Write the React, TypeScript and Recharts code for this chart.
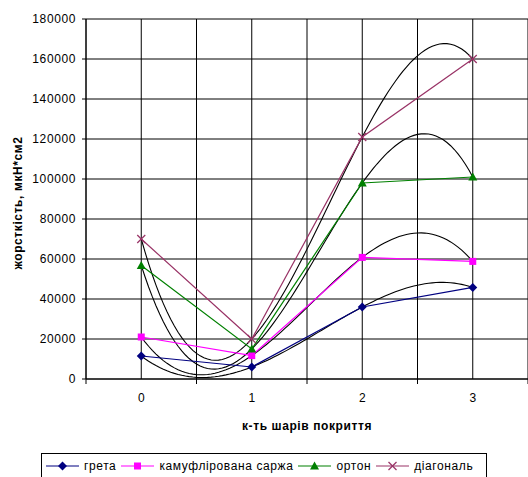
import React from "react";
import { LineChart, Line, XAxis, YAxis, CartesianGrid, Legend, Label } from "recharts";

const layers = [0, 1, 2, 3];
const greta = [11500, 6000, 36000, 45800];
const camo = [21000, 11700, 60800, 58800];
const orton = [56800, 15000, 98000, 101000];
const diag = [70000, 20000, 121000, 160000];
const yTicks = [0, 20000, 40000, 60000, 80000, 100000, 120000, 140000, 160000, 180000];
const xTicks = [-0.5, 0, 0.5, 1, 1.5, 2, 2.5, 3, 3.5];

const FONT = '"Liberation Sans", Arial, sans-serif';

const data = layers.map((x, i) => ({
    x,
    greta: greta[i],
    camo: camo[i],
    orton: orton[i],
    diag: diag[i],
}));

type Series = { key: string, name: string, color: string, marker: string };

const SERIES: Series[] = [
    { key: "greta", name: "грета", color: "#000080", marker: "diamond" },
    { key: "camo", name: "камуфлірована саржа", color: "#FF00FF", marker: "square" },
    { key: "orton", name: "ортон", color: "#008000", marker: "triangle" },
    { key: "diag", name: "діагональ", color: "#993366", marker: "cross" },
];

function Marker({ cx, cy, type, color }: { cx: number, cy: number, type: string, color: string }) {
    if (type === "diamond")
        return <polygon points={`${cx},${cy - 4.5} ${cx + 4.5},${cy} ${cx},${cy + 4.5} ${cx - 4.5},${cy}`} fill={color} />;
    if (type === "square")
        return <rect x={cx - 3.5} y={cy - 3.5} width={7} height={7} fill={color} />;
    if (type === "triangle")
        return <polygon points={`${cx},${cy - 4.5} ${cx + 4.5},${cy + 3.5} ${cx - 4.5},${cy + 3.5}`} fill={color} />;
    return (
        <g stroke={color} strokeWidth={1.2}>
            <line x1={cx - 4} y1={cy - 4} x2={cx + 4} y2={cy + 4} />
            <line x1={cx - 4} y1={cy + 4} x2={cx + 4} y2={cy - 4} />
        </g>
    );
}

// polynomial trendline (order 3) through the series points, like excel does
const polyTrend = (context: any) => {
    let pts: number[][] = [];
    return {
        areaStart() { },
        areaEnd() { },
        lineStart() { pts = []; },
        point(x: number, y: number) { pts.push([+x, +y]); },
        lineEnd() {
            if (!pts.length) return;
            const a = pts[0][0], b = pts[pts.length - 1][0];
            const steps = 90;
            for (let s = 0; s <= steps; s++) {
                const px = a + (b - a) * s / steps;
                let py = 0;
                for (let j = 0; j < pts.length; j++) {
                    let w = 1;
                    for (let k = 0; k < pts.length; k++) {
                        if (k !== j) w *= (px - pts[k][0]) / (pts[j][0] - pts[k][0]);
                    }
                    py += w * pts[j][1];
                }
                if (s === 0) context.moveTo(px, py);
                else context.lineTo(px, py);
            }
        },
    };
};

const XTick = (props: any) => {
    const { x, y, payload } = props;
    const v = payload.value;
    if (Number.isInteger(v)) {
        return <text x={x} y={y + 23} textAnchor="middle" fontSize={12} fontFamily={FONT} fill="#000">{v}</text>;
    }
    return <line x1={x} x2={x} y1={y} y2={y + 5} stroke="#000" />;
};

const LegendBox = () => (
    <div style={{
        border: "1px solid #000", width: 446, height: 26, boxSizing: "border-box", display: "flex", alignItems: "center",
        paddingLeft: 4, background: "#fff", fontFamily: FONT, fontSize: 12, letterSpacing: 0.6, color: "#000",
        whiteSpace: "nowrap", overflow: "visible",
    }}>
        {SERIES.map((s) => (
            <span key={s.key} style={{ display: "flex", alignItems: "center", marginRight: 5, flexShrink: 0 }}>
                <svg width={33} height={10} style={{ marginRight: 5, flexShrink: 0 }}>
                    <line x1={0} y1={5} x2={33} y2={5} stroke={s.color} strokeWidth={1.2} />
                    <Marker cx={16.5} cy={5} type={s.marker} color={s.color} />
                </svg>
                <span style={{ whiteSpace: "nowrap" }}>{s.name}</span>
            </span>
        ))}
    </div>
);

export default function App() {
    return (
        <div style={{ position: "absolute", left: 0, top: 0, width: 528, height: 477, background: "#fff" }}>
            <LineChart width={528} height={477} data={data} margin={{ top: 19, right: 0, bottom: 0, left: 0 }}>
                <CartesianGrid stroke="#000" strokeWidth={1} />
                <XAxis dataKey="x" type="number" domain={[-0.5, 3.5]} ticks={xTicks} interval={0}
                    tick={<XTick />} tickLine={false} tickSize={0} tickMargin={0} height={98}
                    axisLine={{ stroke: "#000" }}>
                    <Label content={({ viewBox }: any) => (
                        <text x={viewBox.x + viewBox.width / 2} y={viewBox.y + 51} textAnchor="middle"
                            fontSize={12} fontWeight="bold" fontFamily={FONT} letterSpacing={0.6} fill="#000">
                            к-ть шарів покриття
                        </text>
                    )} />
                </XAxis>
                <YAxis domain={[0, 180000]} ticks={yTicks} interval={0} width={86} tickSize={4} tickMargin={6}
                    axisLine={{ stroke: "#000" }} tickLine={{ stroke: "#000" }}
                    tick={{ fontSize: 12, fontFamily: FONT, fill: "#000", letterSpacing: 0.6 }}>
                    <Label content={({ viewBox }: any) => {
                        const cx = 18, cy = viewBox.y + viewBox.height / 2 + 4;
                        return (
                            <text x={cx} y={cy} transform={`rotate(-90, ${cx}, ${cy})`} textAnchor="middle"
                                dominantBaseline="central" fontSize={12} fontWeight="bold" fontFamily={FONT}
                                letterSpacing={0.6} fill="#000">
                                жорсткість, мкН*см2
                            </text>
                        );
                    }} />
                </YAxis>
                {SERIES.map((s) => (
                    <Line key={`trend-${s.key}`} dataKey={s.key} type={polyTrend as any} stroke="#000" strokeWidth={1.1}
                        dot={false} activeDot={false} legendType="none" isAnimationActive={false} />
                ))}
                {SERIES.map((s) => (
                    <Line key={s.key} dataKey={s.key} name={s.name} type="linear" stroke={s.color} strokeWidth={1.2}
                        dot={(p: any) => <Marker key={`${s.key}-${p.index}`} cx={p.cx} cy={p.cy} type={s.marker} color={s.color} />}
                        activeDot={false} isAnimationActive={false} />
                ))}
                <Legend layout="horizontal" verticalAlign="middle" align="center" content={<LegendBox />}
                    wrapperStyle={{ left: 41, top: 453, width: 446, height: 26 }} />
            </LineChart>
        </div>
    );
}
